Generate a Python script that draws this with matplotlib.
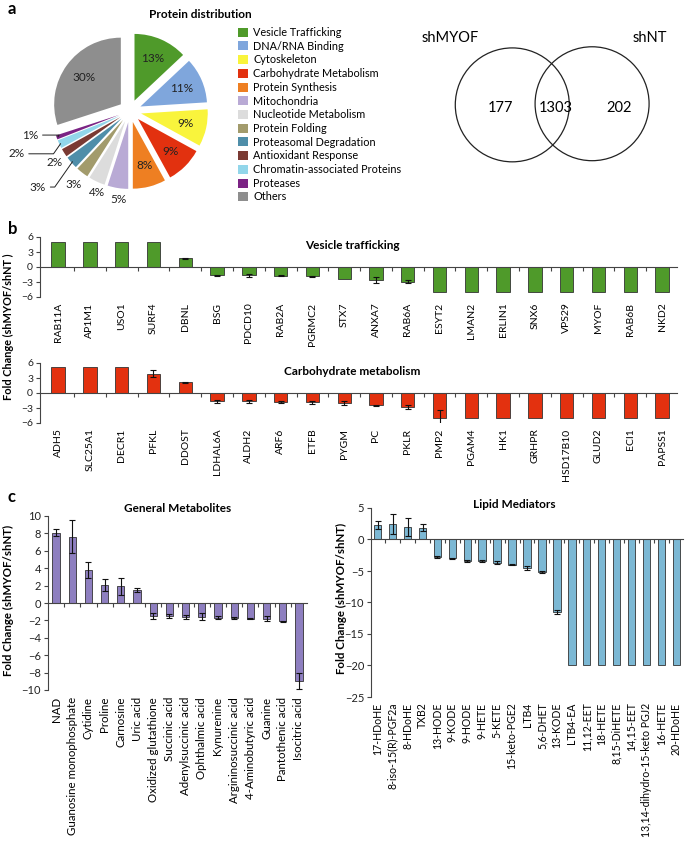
import numpy as np
import matplotlib
matplotlib.use("Agg")
import matplotlib.pyplot as plt
from matplotlib.patches import Circle

plt.rcParams.update({"font.family": ["Lato", "DejaVu Sans"], "font.size": 8,
                     "axes.linewidth": 0.8, "axes.edgecolor": "#444444"})

W, H = 685, 847

# ---------------- data ----------------
pie_cats = ["Vesicle Trafficking", "DNA/RNA Binding", "Cytoskeleton", "Carbohydrate Metabolism",
            "Protein Synthesis", "Mitochondria", "Nucleotide Metabolism", "Protein Folding",
            "Proteasomal Degradation", "Antioxidant Response", "Chromatin-associated Proteins",
            "Proteases", "Others"]
pie_share = [13, 11, 9, 9, 8, 5, 4, 3, 3, 2, 2, 1, 30]
pie_cols = ["#4f9a2a", "#7fa6dc", "#f9f43c", "#e2310f", "#ee7f22", "#b9aad5", "#dcdcdc",
            "#a29b6c", "#4f8ea9", "#7a3a33", "#92d6ea", "#7b2384", "#8e8e8e"]

venn_sets = ["shMYOF", "shNT"]
venn_counts = [177, 1303, 202]

ves_genes = ["RAB11A", "AP1M1", "USO1", "SURF4", "DBNL", "BSG", "PDCD10", "RAB2A", "PGRMC2", "STX7",
             "ANXA7", "RAB6A", "ESYT2", "LMAN2", "ERLIN1", "SNX6", "VPS29", "MYOF", "RAB6B", "NKD2"]
ves_fc = [5, 5, 5, 5, 1.7, -1.7, -1.7, -1.8, -1.9, -2.5, -2.6, -3.0, -5, -5, -5, -5, -5, -5, -5, -5]
ves_err = [0, 0, 0, 0, 0.15, 0.1, 0.3, 0.1, 0.15, 0, 0.6, 0.3, 0, 0, 0, 0, 0, 0, 0, 0]

carb_genes = ["ADH5", "SLC25A1", "DECR1", "PFKL", "DDOST", "LDHAL6A", "ALDH2", "ARF6", "ETFB", "PYGM",
              "PC", "PKLR", "PMP2", "PGAM4", "HK1", "GRHPR", "HSD17B10", "GLUD2", "ECI1", "PAPSS1"]
carb_fc = [5.1, 5.1, 5.1, 3.8, 2.1, -1.7, -1.7, -1.9, -1.9, -2.1, -2.5, -2.9, -5, -5, -5, -5, -5, -5, -5, -5]
carb_err = [0, 0, 0, 0.7, 0.15, 0.25, 0.25, 0.2, 0.3, 0.4, 0.1, 0.4, 1.6, 0, 0, 0, 0, 0, 0, 0]

met_names = ["NAD", "Guanosine monophosphate", "Cytidine", "Proline", "Carnosine", "Uric acid",
             "Oxidized glutathione", "Succinic acid", "Adenylsuccinic acid", "Ophthalmic acid",
             "Kynurenine", "Argininosuccinic acid", "4-Aminobutyric acid", "Guanine",
             "Pantothenic acid", "Isocitric acid"]
met_fc = [8.1, 7.6, 3.8, 2.1, 1.9, 1.5, -1.5, -1.5, -1.6, -1.6, -1.7, -1.7, -1.8, -1.8, -2.1, -9.0]
met_err = [0.4, 1.9, 0.9, 0.7, 1.0, 0.2, 0.3, 0.2, 0.25, 0.4, 0.15, 0.1, 0.05, 0.25, 0.05, 0.9]

lip_names = ["17-HDoHE", "8-iso-15(R)-PGF2a", "8-HDoHE", "TXB2", "13-HODE", "9-KODE", "9-HODE",
             "9-HETE", "5-KETE", "15-keto-PGE2", "LTB4", "5,6-DHET", "13-KODE", "LTB4-EA",
             "11,12-EET", "18-HETE", "8,15-DiHETE", "14,15-EET", "13,14-dihydro-15-keto PGJ2",
             "16-HETE", "20-HDoHE"]
lip_fc = [2.3, 2.4, 2.0, 1.9, -2.8, -3.0, -3.4, -3.4, -3.7, -4.0, -4.5, -5.1, -11.5,
          -20, -20, -20, -20, -20, -20, -20, -20]
lip_err = [0.7, 1.6, 1.4, 0.6, 0.15, 0.05, 0.2, 0.2, 0.25, 0.05, 0.35, 0.15, 0.3,
           0, 0, 0, 0, 0, 0, 0, 0]


def rect(l, t, r, b):
    return [l / W, 1 - b / H, (r - l) / W, (b - t) / H]


fig = plt.figure(figsize=(W / 100, H / 100), dpi=100)

# ---------------- a: pie ----------------
ax = fig.add_axes(rect(40, 21, 220, 201))
wedges, _, pct = ax.pie(pie_share, colors=pie_cols, startangle=90, counterclock=False,
                        explode=[0.17] * len(pie_share), radius=1.0, pctdistance=0.68,
                        autopct=lambda p: f"{p:.0f}%" if p >= 7.5 else "",
                        wedgeprops=dict(linewidth=0), textprops=dict(fontsize=8.5, color="#222"))
ax.set_xlim(-1.35, 1.35); ax.set_ylim(-1.35, 1.35); ax.set_aspect("equal")
# outside labels for small slices: (radius, angle offset, leader line)
outside = {5: (1.17, 2, False), 6: (1.15, 4, False), 7: (1.22, 0, False), 8: (1.62, -2, True),
           9: (1.2, 2, False), 10: (1.65, -5, True), 11: (1.37, -7, True)}
for i, (rr, da, lead) in outside.items():
    w = wedges[i]
    mid = np.deg2rad((w.theta1 + w.theta2) / 2)
    cx, cy = w.center
    tx = cx + rr * np.cos(mid + np.deg2rad(da)); ty = cy + rr * np.sin(mid + np.deg2rad(da))
    lab = f"{pie_share[i]}%"
    if lead:
        ax.annotate(lab, xy=(cx + 0.98 * np.cos(mid), cy + 0.98 * np.sin(mid)), xytext=(tx, ty),
                    fontsize=8.5, ha="center", va="center", color="#222", annotation_clip=False,
                    arrowprops=dict(arrowstyle="-", lw=0.7, color="#222", shrinkA=1, shrinkB=0,
                                    connectionstyle="angle,angleA=0,angleB=55,rad=0"))
    else:
        ax.text(tx, ty, lab, fontsize=8.5, ha="center", va="center", color="#222")
fig.text(200 / W, 1 - 15 / H, "Protein distribution", fontsize=8.5, fontweight="bold",
         ha="center", va="center")
fig.legend(wedges, pie_cats, loc="upper left", bbox_to_anchor=(238 / W, 1 - 27 / H), frameon=False,
           fontsize=7.8, labelspacing=0.25, handlelength=0.9, handleheight=0.9, handletextpad=0.5,
           borderpad=0, borderaxespad=0)
fig.text(8 / W, 1 - 9 / H, "a", fontsize=12, fontweight="bold", ha="left", va="center")

# ---------------- a: venn ----------------
ax = fig.add_axes(rect(400, 20, 685, 200))
ax.set_xlim(-2.67, 2.33); ax.set_ylim(-1.67, 1.49); ax.axis("off")
ax.add_patch(Circle((-0.7, 0.0), 1.0, fill=False, lw=0.9, ec="#222"))
ax.add_patch(Circle((0.7, 0.02), 1.0, fill=False, lw=0.9, ec="#222"))
for x, n in zip([-0.9, 0.07, 1.18], venn_counts):
    ax.text(x, -0.05, str(n), fontsize=10.5, ha="center", va="center")
ax.text(-1.79, 1.18, venn_sets[0], fontsize=10.5, ha="center", va="center")
ax.text(1.72, 1.18, venn_sets[1], fontsize=10.5, ha="center", va="center")


# ---------------- bar helper ----------------
def bars(ax, names, vals, errs, color, width, ylim, ystep, xlim, lab_fs, tick_fs, lab_pad):
    x = np.arange(len(vals))
    ax.bar(x, vals, width, color=color, edgecolor="#333333", lw=0.6, zorder=2)
    e = np.array(errs)
    m = e > 0
    ax.errorbar(x[m], np.array(vals)[m], yerr=e[m], fmt="none", ecolor="#111", elinewidth=0.8,
                capsize=2.2, capthick=0.8, zorder=3)
    ax.set_xlim(*xlim); ax.set_ylim(*ylim)
    ax.set_yticks(np.arange(ylim[0], ylim[1] + 0.01, ystep))
    ax.tick_params(axis="y", labelsize=tick_fs, length=3, width=0.8, pad=2, colors="#444",
                   labelcolor="#222")
    for s in ["top", "right"]:
        ax.spines[s].set_visible(False)
    ax.spines["bottom"].set_position(("data", 0))
    ax.set_xticks(np.arange(len(vals) - 1) + 0.5)
    ax.set_xticklabels([])
    ax.tick_params(axis="x", direction="out", length=3, width=0.8, colors="#444")
    sec = ax.secondary_xaxis(0.0)
    sec.set_xticks(x, labels=names, rotation=90, fontsize=lab_fs)
    sec.tick_params(length=0, pad=lab_pad)
    sec.spines["bottom"].set_visible(False)
    return ax


# ---------------- b ----------------
fig.text(8 / W, 1 - 229 / H, "b", fontsize=12, fontweight="bold", ha="left", va="center")
ax = fig.add_axes(rect(40, 237, 677, 297))
bars(ax, ves_genes, ves_fc, ves_err, "#4f9a2a", 0.42, (-6, 6), 3, (-0.57, 19.47), 7.5, 7.5, 4)
ax.text(0.49, 0.86, "Vesicle trafficking", transform=ax.transAxes, fontsize=8.5,
        fontweight="bold", ha="center", va="center")
ax = fig.add_axes(rect(40, 363, 677, 423))
bars(ax, carb_genes, carb_fc, carb_err, "#e3310f", 0.42, (-6, 6), 3, (-0.57, 19.47), 7.5, 7.5, 4)
ax.text(0.49, 0.86, "Carbohydrate metabolism", transform=ax.transAxes, fontsize=8.5,
        fontweight="bold", ha="center", va="center")
fig.text(8 / W, 1 - 327 / H, "Fold Change (shMYOF/shNT )", rotation=90, fontsize=7.9,
         fontweight="bold", ha="center", va="center")

# ---------------- c ----------------
fig.text(8 / W, 1 - 497 / H, "c", fontsize=12, fontweight="bold", ha="left", va="center")
ax = fig.add_axes(rect(48, 516, 307, 690))
bars(ax, met_names, met_fc, met_err, "#8e7fc0", 0.45, (-10, 10), 2, (-0.5, 15.5), 8.3, 8, 5)
ax.text(0.5, 1.045, "General Metabolites", transform=ax.transAxes, fontsize=8.5,
        fontweight="bold", ha="center", va="center")
fig.text(8 / W, 1 - 600 / H, "Fold Change (shMYOF/shNT)", rotation=90, fontsize=8.3,
         fontweight="bold", ha="center", va="center")

ax = fig.add_axes(rect(371, 508, 683, 697))
bars(ax, lip_names, lip_fc, lip_err, "#7cb8d4", 0.5, (-25, 5), 5, (-0.45, 20.45), 7.6, 8, 4)
ax.text(0.46, 1.02, "Lipid Mediators", transform=ax.transAxes, fontsize=8.5,
        fontweight="bold", ha="center", va="center")
fig.text(341 / W, 1 - 598 / H, "Fold Change (shMYOF/shNT)", rotation=90, fontsize=8.3,
         fontweight="bold", ha="center", va="center")

fig.savefig("out.png", dpi=100)
